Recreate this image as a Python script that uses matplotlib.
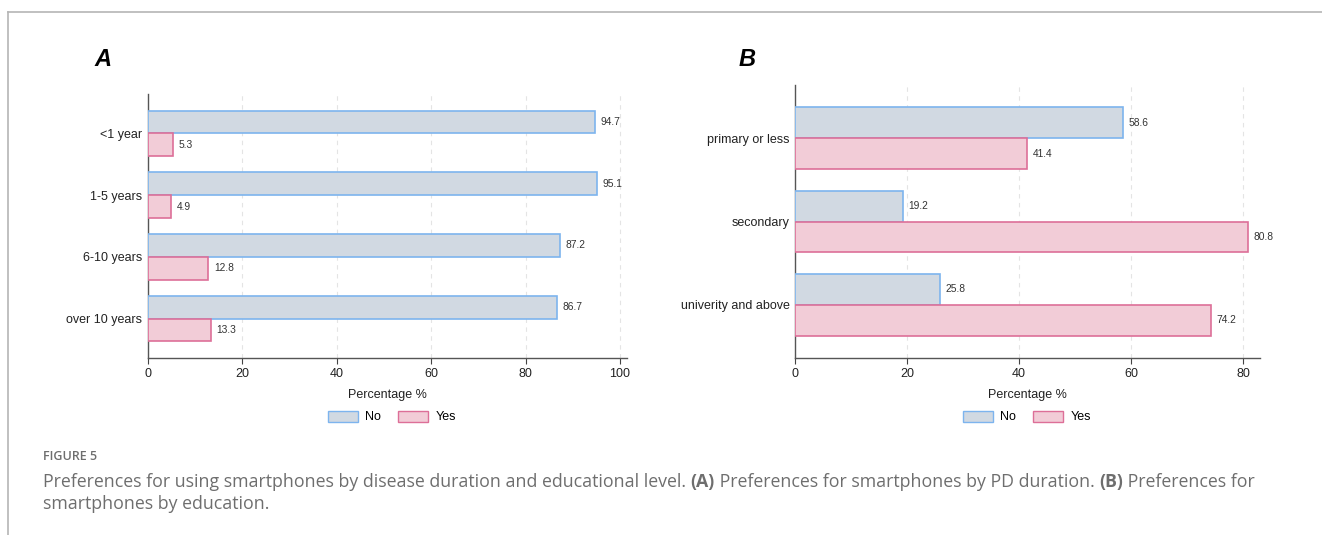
import matplotlib
matplotlib.use("Agg")
import matplotlib.pyplot as plt
import numpy as np
from matplotlib.lines import Line2D
from matplotlib.patches import Patch

# panel A: disease duration
dur_labels = ["<1 year", "1-5 years", "6-10 years", "over 10 years"]
dur_no = [94.7, 95.1, 87.2, 86.7]
dur_yes = [5.3, 4.9, 12.8, 13.3]

# panel B: education
edu_labels = ["primary or less", "secondary", "univerity and above"]
edu_no = [58.6, 19.2, 25.8]
edu_yes = [41.4, 80.8, 74.2]

NO_FILL, NO_EDGE = "#d1d9e2", "#7db4ee"
YES_FILL, YES_EDGE = "#f2ccd7", "#dd6f98"
W, H = 1322, 535

plt.rcParams["font.family"] = ["Liberation Sans", "DejaVu Sans"]

fig = plt.figure(figsize=(W / 100, H / 100), dpi=100)


def draw_panel(ax, labels, no, yes, xmax, ticks):
    y = np.arange(len(labels))
    h = 0.37
    ax.barh(y - h / 2, no, height=h, color=NO_FILL, edgecolor=NO_EDGE, linewidth=1.2, zorder=3)
    ax.barh(y + h / 2, yes, height=h, color=YES_FILL, edgecolor=YES_EDGE, linewidth=1.2, zorder=3)
    for yi, v in zip(y, no):
        ax.annotate(f"{v:.1f}", (v, yi - h / 2), xytext=(4, 0), textcoords="offset points",
                    va="center", ha="left", fontsize=7.4, color="#333333")
    for yi, v in zip(y, yes):
        ax.annotate(f"{v:.1f}", (v, yi + h / 2), xytext=(4, 0), textcoords="offset points",
                    va="center", ha="left", fontsize=7.4, color="#333333")
    ax.set_yticks(y)
    ax.set_yticklabels(labels, fontsize=9, color="#222222")
    ax.set_ylim(len(labels) - 1 + 0.64, -0.64)
    ax.set_xlim(0, xmax)
    ax.set_xticks(ticks)
    ax.tick_params(axis="x", labelsize=9, length=4, color="#444444", labelcolor="#222222")
    ax.tick_params(axis="y", length=0, pad=4)
    ax.set_xlabel("Percentage %", fontsize=9, color="#222222", labelpad=6)
    for s in ["top", "right"]:
        ax.spines[s].set_visible(False)
    for s in ["left", "bottom"]:
        ax.spines[s].set_color("#555555")
        ax.spines[s].set_linewidth(1.0)
    ax.grid(axis="x", linestyle=(0, (4, 4)), color="#e4e4e4", linewidth=0.8, zorder=0)
    ax.set_axisbelow(True)


ax1 = fig.add_axes([148 / W, 1 - 358 / H, (627 - 148) / W, (358 - 94) / H])
draw_panel(ax1, dur_labels, dur_no, dur_yes, 101.5, [0, 20, 40, 60, 80, 100])
ax2 = fig.add_axes([795 / W, 1 - 358 / H, (1260 - 795) / W, (358 - 85) / H])
draw_panel(ax2, edu_labels, edu_no, edu_yes, 83.0, [0, 20, 40, 60, 80])

fig.text(94 / W, 1 - 60 / H, "A", fontsize=17, fontweight="bold", fontstyle="italic", va="center")
fig.text(739 / W, 1 - 60 / H, "B", fontsize=17, fontweight="bold", fontstyle="italic", va="center")

handles = [Patch(facecolor=NO_FILL, edgecolor=NO_EDGE, label="No"),
           Patch(facecolor=YES_FILL, edgecolor=YES_EDGE, label="Yes")]
for cx in [392 / W, 1027 / W]:
    fig.legend(handles=handles, loc="center", bbox_to_anchor=(cx, 1 - 417 / H), ncol=2,
               frameon=False, fontsize=9, handlelength=2.4, handleheight=1.0,
               columnspacing=1.4, handletextpad=0.6)

# page frame
fig.add_artist(Line2D([8 / W, 1], [1 - 12 / H, 1 - 12 / H], color="#b5b5b5", lw=1.2))
fig.add_artist(Line2D([8 / W, 8 / W], [0, 1 - 12 / H], color="#b5b5b5", lw=1.2))

# caption
cap_font = ["Open Sans", "DejaVu Sans"]
cap_col = "#6e6e6e"
fig.text(43 / W, 1 - 457 / H, "FIGURE 5", fontsize=9, fontweight="semibold", color=cap_col,
         family=cap_font, va="center")

renderer = fig.canvas.get_renderer()
line1 = [("Preferences for using smartphones by disease duration and educational level. ", False),
         ("(A)", True),
         (" Preferences for smartphones by PD duration. ", False),
         ("(B)", True),
         (" Preferences for", False)]
line2 = [("smartphones by education.", False)]


def write_line(parts, x0, y, size):
    x = x0
    for txt, bold in parts:
        t = fig.text(x, y, txt, fontsize=size, color=cap_col, family=cap_font, va="center",
                     fontweight="bold" if bold else "normal")
        x += t.get_window_extent(renderer=renderer).width / fig.bbox.width
    return x


# size the caption so the first line runs to the same right edge as the reference
probe = fig.text(0, 0, "".join(p for p, _ in line1), fontsize=10, family=cap_font)
cap_size = 10 * (1252 - 43) / probe.get_window_extent(renderer=renderer).width
probe.remove()

write_line(line1, 43 / W, 1 - 482 / H, cap_size)
write_line(line2, 43 / W, 1 - 504 / H, cap_size)

fig.savefig("out.png", dpi=100)
